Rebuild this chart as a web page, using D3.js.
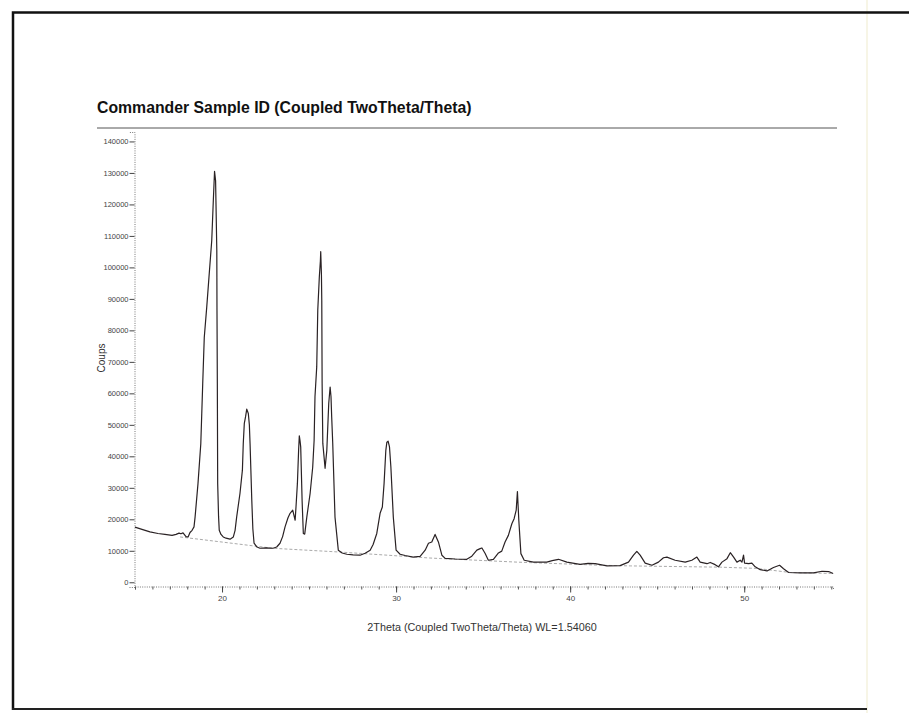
<!DOCTYPE html>
<html>
<head>
<meta charset="utf-8">
<script src="https://cdn.jsdelivr.net/npm/d3@7"></script>
<style>
  html, body { margin: 0; padding: 0; background: #fff; }
  svg { display: block; }
  text { font-family: "Liberation Sans", Arial, sans-serif; }
</style>
</head>
<body>
<svg id="chart" width="909" height="713"></svg>
<script>
// Diffractogram, 2Theta (deg) vs intensity (counts)
const twoTheta = [
  15.00, 15.40, 15.86, 16.32, 16.72, 17.13, 17.36, 17.53, 17.64, 17.76,
  17.93, 18.05, 18.16, 18.28, 18.39, 18.45, 18.62, 18.78, 18.89, 18.98,
  19.12, 19.25, 19.41, 19.50, 19.57, 19.63, 19.70, 19.71, 19.73, 19.75,
  19.80, 19.84, 19.94, 20.07, 20.23, 20.46, 20.65, 20.75, 20.84, 21.03,
  21.17, 21.22, 21.28, 21.35, 21.42, 21.51, 21.57, 21.61, 21.71, 21.77,
  21.84, 22.01, 22.18, 22.53, 22.93, 23.14, 23.33, 23.48, 23.62, 23.79,
  23.91, 24.06, 24.20, 24.25, 24.33, 24.40, 24.44, 24.48, 24.52, 24.60,
  24.67, 24.75, 24.87, 25.06, 25.21, 25.29, 25.34, 25.44, 25.50, 25.59,
  25.65, 25.67, 25.71, 25.73, 25.75, 25.79, 25.92, 26.02, 26.13, 26.21,
  26.26, 26.30, 26.36, 26.49, 26.68, 26.90, 27.17, 27.53, 27.93, 28.22,
  28.51, 28.68, 28.89, 29.08, 29.21, 29.31, 29.41, 29.47, 29.54, 29.62,
  29.70, 29.84, 30.00, 30.23, 30.52, 30.98, 31.38, 31.67, 31.86, 32.05,
  32.24, 32.43, 32.63, 32.82, 33.39, 34.06, 34.35, 34.64, 34.83, 34.93,
  35.11, 35.30, 35.59, 35.88, 36.07, 36.26, 36.45, 36.65, 36.78, 36.90,
  36.97, 37.05, 37.17, 37.36, 37.89, 38.66, 38.97, 39.33, 39.81, 40.57,
  41.03, 41.44, 42.11, 42.87, 43.35, 43.64, 43.83, 44.02, 44.31, 44.70,
  45.07, 45.36, 45.56, 46.03, 46.61, 46.99, 47.28, 47.47, 47.86, 48.05,
  48.33, 48.52, 48.72, 49.01, 49.20, 49.39, 49.58, 49.77, 49.87, 49.96,
  50.02, 50.25, 50.44, 50.63, 50.92, 51.31, 51.68, 52.03, 52.26, 52.55,
  53.22, 53.98, 54.47, 54.85, 55.11
];
const counts = [
  17500, 16800, 16000, 15500, 15200, 14900, 15200, 15600, 15400, 15700,
  14500, 14400, 15800, 16500, 17600, 20600, 31400, 44000, 63000, 77800,
  87300, 96900, 108600, 121300, 130500, 127500, 105400, 86400, 63200, 31400,
  21000, 16500, 15200, 14400, 14000, 13700, 14400, 16500, 20700, 28200,
  35600, 44100, 50500, 52500, 55000, 53600, 50000, 44100, 26000, 17000,
  12400, 11200, 10800, 10900, 10800, 11200, 12400, 14500, 17600, 20500,
  21900, 22900, 19700, 24000, 31400, 42000, 46500, 45000, 43000, 26000,
  15500, 15300, 20700, 28200, 36600, 45000, 58900, 68400, 86400, 97000,
  102000, 105000, 98000, 89600, 63200, 44100, 36200, 41900, 56800, 62000,
  59000, 52500, 44100, 20700, 10200, 9300, 8900, 8700, 8600, 9200,
  10200, 12000, 15500, 21900, 23900, 31400, 41900, 44500, 44800, 43000,
  36600, 20700, 10200, 8900, 8500, 8000, 8200, 10200, 12400, 12800,
  15200, 12800, 8600, 7600, 7400, 7300, 8300, 10200, 10700, 10900,
  9200, 7000, 7300, 9300, 9900, 12800, 14900, 18600, 20200, 22900,
  28800, 19700, 9100, 7000, 6400, 6400, 6900, 7300, 6400, 5700,
  6000, 5900, 5200, 5300, 6400, 8600, 9800, 8600, 6100, 5400,
  6400, 7800, 8000, 7000, 6400, 7000, 8000, 6400, 5900, 6300,
  5600, 4900, 6400, 7500, 9400, 8000, 6400, 7000, 6400, 8600,
  6100, 5900, 6100, 4900, 4000, 3600, 4700, 5400, 4300, 3100,
  3000, 3000, 3500, 3400, 2800
];

// Fitted background under the pattern
const bgTheta  = [17.59, 22.93, 26.78, 31.95, 36.95, 41.80, 43.45, 48.62, 50.75, 52.65, 55.11];
const bgCounts = [14400, 10800, 9600, 7700, 6400, 5400, 5200, 4800, 4400, 3100, 2800];

const yTicks = [0, 10000, 20000, 30000, 40000, 50000, 60000, 70000,
                80000, 90000, 100000, 110000, 120000, 130000, 140000];
const xTicks = [20, 30, 40, 50];
const xMinorTicks = d3.range(15, 56, 1);

const titleText = "Commander Sample ID (Coupled TwoTheta/Theta)";
const xTitle = "2Theta (Coupled TwoTheta/Theta) WL=1.54060";
const yTitle = "Coups";

const svg = d3.select("#chart");

// page frame
svg.append("line").attr("x1", 867).attr("x2", 867).attr("y1", 0).attr("y2", 713)
  .attr("stroke", "#f7f5e6").attr("stroke-width", 2);
svg.append("path")
  .attr("d", "M13,710 V12.5 H909")
  .attr("fill", "none").attr("stroke", "#111").attr("stroke-width", 2.5);
svg.append("line").attr("x1", 12).attr("x2", 867).attr("y1", 709).attr("y2", 709)
  .attr("stroke", "#222").attr("stroke-width", 2);

// title + rule
svg.append("text").attr("x", 97).attr("y", 113)
  .attr("font-size", 15.8).attr("font-weight", "bold").attr("fill", "#111")
  .text(titleText);
svg.append("line").attr("x1", 97).attr("x2", 837).attr("y1", 128).attr("y2", 128)
  .attr("stroke", "#555").attr("stroke-width", 1);

const x = d3.scaleLinear().domain([15, 55.1]).range([135, 833]);
const y = d3.scaleLinear().domain([-1500, 143000]).range([587, 132]);

// y axis
const yAxis = svg.append("g").attr("transform", "translate(134.5,0)")
  .call(d3.axisLeft(y).tickValues(yTicks).tickFormat(d3.format("d"))
    .tickSize(5).tickPadding(1));
yAxis.select(".domain").attr("stroke", "#777").attr("stroke-dasharray", "1 1.3");
yAxis.selectAll(".tick line").attr("stroke", "#444");
yAxis.selectAll("text").attr("font-size", 7.5).attr("fill", "#444")
  .attr("font-family", "'Liberation Sans', Arial, sans-serif");

// x axis: minor ticks every degree, labelled majors every ten
const xAxisY = 586.5;
svg.append("g").attr("transform", `translate(0,${xAxisY})`)
  .call(d3.axisBottom(x).tickValues(xMinorTicks).tickFormat("").tickSize(3))
  .call(g => {
    g.select(".domain").attr("stroke", "#777").attr("stroke-dasharray", "1 1.3");
    g.selectAll(".tick line").attr("stroke", "#555");
  });
const xAxis = svg.append("g").attr("transform", `translate(0,${xAxisY})`)
  .call(d3.axisBottom(x).tickValues(xTicks).tickFormat(d3.format("d"))
    .tickSize(6).tickPadding(3));
xAxis.select(".domain").remove();
xAxis.selectAll(".tick line").attr("stroke", "#444");
xAxis.selectAll("text").attr("font-size", 8).attr("fill", "#444")
  .attr("font-family", "'Liberation Sans', Arial, sans-serif");

// axis titles
svg.append("text").attr("x", 482).attr("y", 631).attr("text-anchor", "middle")
  .attr("font-size", 10.8).attr("fill", "#333").text(xTitle);
svg.append("text").attr("transform", "translate(105,358) rotate(-90)")
  .attr("text-anchor", "middle").attr("font-size", 10).attr("fill", "#333")
  .text(yTitle);

// background curve
const bg = bgTheta.map((t, i) => [t, bgCounts[i]]);
const line = d3.line().x(d => x(d[0])).y(d => y(d[1]));
svg.append("path").datum(bg).attr("d", line)
  .attr("fill", "none").attr("stroke", "#aaa").attr("stroke-width", 1)
  .attr("stroke-dasharray", "3 2");

// measured pattern
const pattern = twoTheta.map((t, i) => [t, counts[i]]);
svg.append("path").datum(pattern).attr("d", line)
  .attr("fill", "none").attr("stroke", "#2a2224").attr("stroke-width", 1.2)
  .attr("stroke-linejoin", "round");
</script>
</body>
</html>
